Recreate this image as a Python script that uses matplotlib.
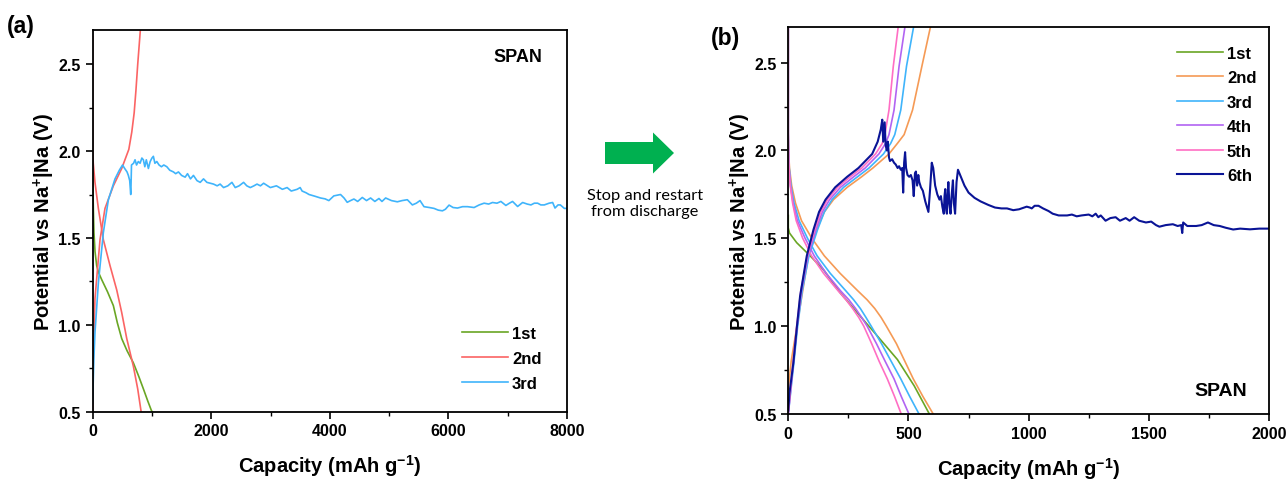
import matplotlib

matplotlib.use("Agg")
import matplotlib.pyplot as plt
from matplotlib.patches import FancyArrow
from matplotlib.ticker import MultipleLocator

plt.rcParams["font.family"] = ["Liberation Sans", "DejaVu Sans"]
plt.rcParams["font.weight"] = "bold"
plt.rcParams["mathtext.fontset"] = "custom"
plt.rcParams["mathtext.rm"] = "Liberation Sans:bold"
plt.rcParams["mathtext.default"] = "rm"

# ---- panel (a): SPAN, three cycles ----
a1_x = [0, 2, 6, 12, 22, 40, 68, 100, 152, 250, 349, 417, 490, 580, 687, 780, 856, 930, 986, 1000]
a1_y = [1.90, 1.84, 1.76, 1.66, 1.53, 1.42, 1.34, 1.30, 1.26, 1.19, 1.11, 1.01, 0.92, 0.85, 0.78, 0.70, 0.63, 0.56, 0.51, 0.50]

a2_dis_x = [0, 0, 2, 10, 39, 96, 180, 293, 406, 490, 575, 687, 760, 817]
a2_dis_y = [2.66, 2.20, 2.00, 1.93, 1.82, 1.67, 1.49, 1.34, 1.20, 1.07, 0.92, 0.76, 0.63, 0.50]
a2_chg_x = [0, 4, 10, 39, 124, 208, 349, 490, 610, 660, 700, 730, 760, 805]
a2_chg_y = [0.50, 0.65, 0.80, 1.15, 1.49, 1.67, 1.80, 1.90, 2.01, 2.11, 2.22, 2.35, 2.50, 2.70]

a3_x = [0, 5, 20, 39, 96, 180, 265, 377, 450, 504, 540, 580, 602, 625, 642, 647, 655, 690,
        715, 740, 770, 800, 830, 855, 880, 905, 940, 970, 1000, 1024, 1050, 1082, 1120, 1160,
        1200, 1251, 1300, 1363, 1400, 1447, 1500, 1560, 1600, 1650, 1700, 1760, 1814, 1870,
        1927, 2039, 2100, 2150, 2208, 2280, 2349, 2405, 2470, 2546, 2600, 2659, 2720, 2772,
        2830, 2884, 2997, 3100, 3200, 3280, 3350, 3449, 3500, 3533, 3600, 3650, 3750, 3843,
        3920, 3984, 4068, 4181, 4240, 4294, 4350, 4407, 4470, 4548, 4620, 4688, 4760, 4829,
        4880, 4942, 5040, 5139, 5220, 5308, 5393, 5460, 5522, 5589, 5680, 5758, 5830, 5900,
        5950, 6012, 6080, 6154, 6240, 6323, 6434, 6520, 6603, 6680, 6745, 6820, 6886, 6970,
        7030, 7083, 7168, 7253, 7330, 7393, 7450, 7506, 7560, 7618, 7700, 7759, 7799, 7850,
        7889, 7956, 8000]
a3_y = [0.55, 0.62, 0.80, 0.955, 1.24, 1.53, 1.72, 1.84, 1.89, 1.92, 1.90, 1.88, 1.86, 1.83,
        1.75, 1.80, 1.92, 1.93, 1.95, 1.92, 1.94, 1.93, 1.96, 1.95, 1.91, 1.95, 1.90, 1.94,
        1.96, 1.97, 1.93, 1.94, 1.92, 1.91, 1.92, 1.91, 1.89, 1.88, 1.87, 1.88, 1.86, 1.85,
        1.87, 1.84, 1.86, 1.83, 1.82, 1.84, 1.82, 1.81, 1.80, 1.81, 1.79, 1.80, 1.82, 1.79,
        1.80, 1.82, 1.80, 1.79, 1.80, 1.81, 1.80, 1.815, 1.79, 1.80, 1.78, 1.79, 1.77, 1.78,
        1.79, 1.77, 1.76, 1.75, 1.74, 1.73, 1.725, 1.715, 1.742, 1.75, 1.73, 1.705, 1.715,
        1.724, 1.71, 1.733, 1.715, 1.73, 1.71, 1.727, 1.71, 1.73, 1.715, 1.708, 1.715, 1.72,
        1.69, 1.70, 1.715, 1.68, 1.675, 1.67, 1.66, 1.656, 1.665, 1.689, 1.675, 1.672, 1.68,
        1.68, 1.675, 1.69, 1.70, 1.695, 1.704, 1.70, 1.71, 1.687, 1.70, 1.71, 1.681, 1.704,
        1.695, 1.69, 1.70, 1.70, 1.69, 1.69, 1.70, 1.704, 1.672, 1.69, 1.69, 1.67, 1.67]

# ---- panel (b): SPAN, six cycles ----
b1_x = [0, 0, 5, 35, 91, 147, 216, 286, 370, 454, 524, 587]
b1_y = [1.63, 1.56, 1.53, 1.475, 1.40, 1.32, 1.19, 1.078, 0.945, 0.81, 0.66, 0.50]

dis_y = [2.70, 2.10, 2.00, 1.90, 1.80, 1.70, 1.60, 1.50, 1.40, 1.30, 1.20, 1.15, 1.10, 1.05,
         1.00, 0.90, 0.80, 0.70, 0.60, 0.50]
b2_dis_x = [0, 0, 1, 5, 14, 30, 55, 98, 150, 216, 290, 328, 360, 386, 408, 450, 485, 520, 560, 603]
b3_dis_x = [0, 0, 1, 4, 11, 24, 45, 80, 120, 175, 240, 272, 300, 323, 345, 388, 428, 468, 505, 544]
b4_dis_x = [0, 0, 1, 3, 9, 20, 38, 70, 108, 158, 218, 252, 280, 305, 328, 367, 403, 440, 470, 502]
b5_dis_x = [0, 0, 1, 3, 8, 18, 33, 60, 97, 147, 208, 240, 268, 293, 314, 347, 378, 412, 442, 470]

chg_y = [0.50, 0.80, 1.00, 1.20, 1.40, 1.55, 1.65, 1.72, 1.79, 1.85, 1.90, 1.98, 2.04, 2.09, 2.23, 2.48, 2.70]
b2_chg_y = [0.64, 0.80, 1.00, 1.20, 1.40, 1.55, 1.65, 1.72, 1.79, 1.85, 1.90, 1.98, 2.04, 2.09, 2.23, 2.48, 2.70]
b2_chg_x = [0, 12, 36, 60, 84, 118, 150, 188, 245, 305, 352, 419, 454, 482, 517, 556, 591]
b3_chg_x = [0, 24, 39, 58, 86, 122, 150, 182, 230, 288, 336, 396, 426, 443, 468, 492, 521]
b4_chg_x = [0, 22, 37, 55, 82, 115, 142, 172, 217, 272, 320, 377, 405, 419, 440, 461, 485]
b5_chg_x = [0, 20, 35, 52, 79, 110, 135, 163, 205, 258, 306, 363, 391, 402, 419, 437, 457]

b6_x = [0, 5, 21, 36, 49, 77, 105, 128, 155, 195, 245, 292, 349, 372, 385, 391, 395, 401, 405,
        410, 414, 419, 423, 432, 440, 447, 455, 461, 468, 474, 478, 482, 486, 490, 496, 503,
        510, 517, 522, 527, 531, 536, 541, 545, 552, 560, 570, 583, 590, 597, 603, 611, 620,
        629, 635, 641, 647, 650, 653, 657, 660, 663, 666, 670, 675, 680, 685, 689, 694, 700,
        706, 715, 733, 750, 775, 800, 832, 860, 887, 910, 936, 960, 992, 1005, 1013, 1025,
        1041, 1060, 1083, 1100, 1125, 1139, 1160, 1180, 1200, 1220, 1250, 1265, 1279, 1290,
        1300, 1320, 1340, 1362, 1380, 1404, 1420, 1439, 1460, 1488, 1510, 1530, 1544, 1570,
        1600, 1620, 1635, 1639, 1643, 1660, 1697, 1720, 1746, 1770, 1795, 1820, 1851, 1880,
        1921, 1960, 2000]
b6_y = [0.52, 0.62, 0.79, 1.00, 1.17, 1.40, 1.55, 1.65, 1.72, 1.79, 1.85, 1.90, 1.98, 2.05,
        2.12, 2.175, 2.05, 2.16, 2.03, 2.00, 2.05, 1.96, 1.94, 1.95, 1.93, 1.92, 1.90, 1.91,
        1.89, 1.90, 1.76, 1.93, 1.99, 1.90, 1.86, 1.85, 1.86, 1.83, 1.74, 1.87, 1.88, 1.80,
        1.86, 1.82, 1.79, 1.77, 1.71, 1.65, 1.78, 1.93, 1.90, 1.80, 1.75, 1.72, 1.74, 1.68,
        1.64, 1.74, 1.78, 1.66, 1.64, 1.75, 1.82, 1.70, 1.64, 1.75, 1.83, 1.70, 1.64, 1.82,
        1.89, 1.86, 1.80, 1.76, 1.73, 1.71, 1.69, 1.675, 1.67, 1.67, 1.66, 1.665, 1.68,
        1.675, 1.67, 1.685, 1.685, 1.67, 1.655, 1.64, 1.63, 1.63, 1.63, 1.635, 1.625, 1.63,
        1.635, 1.625, 1.64, 1.62, 1.63, 1.60, 1.615, 1.62, 1.60, 1.615, 1.60, 1.62, 1.60,
        1.59, 1.595, 1.575, 1.566, 1.575, 1.58, 1.57, 1.575, 1.53, 1.59, 1.57, 1.57, 1.575,
        1.59, 1.575, 1.57, 1.56, 1.55, 1.555, 1.551, 1.555, 1.555]

GREEN = "#6aa624"
RED = "#fb6464"
LBLUE = "#3fb4fb"
ORANGE = "#f59a55"
PURPLE = "#b264f2"
PINK = "#ff6ec4"
NAVY = "#0a1496"

fig = plt.figure(figsize=(12.87, 4.81), dpi=100)
ax_a = fig.add_axes([0.072, 0.1424, 0.3685, 0.794])
ax_b = fig.add_axes([0.6125, 0.1372, 0.3735, 0.8037])

lw = 1.2
ax_a.plot(a1_x, a1_y, color=GREEN, lw=lw, label="1st")
ax_a.plot(a2_dis_x, a2_dis_y, color=RED, lw=lw, label="2nd")
ax_a.plot(a2_chg_x, a2_chg_y, color=RED, lw=lw)
ax_a.plot(a3_x, a3_y, color=LBLUE, lw=lw, label="3rd")

ax_b.plot(b1_x, b1_y, color=GREEN, lw=lw, label="1st")
ax_b.plot(b2_dis_x, dis_y, color=ORANGE, lw=lw, label="2nd")
ax_b.plot(b2_chg_x, b2_chg_y, color=ORANGE, lw=lw)
ax_b.plot(b3_dis_x, dis_y, color=LBLUE, lw=lw, label="3rd")
ax_b.plot(b3_chg_x, chg_y, color=LBLUE, lw=lw)
ax_b.plot(b4_dis_x, dis_y, color=PURPLE, lw=lw, label="4th")
ax_b.plot(b4_chg_x, chg_y, color=PURPLE, lw=lw)
ax_b.plot(b5_dis_x, dis_y, color=PINK, lw=lw, label="5th")
ax_b.plot(b5_chg_x, chg_y, color=PINK, lw=lw)
ax_b.plot(b6_x, b6_y, color=NAVY, lw=1.5, label="6th")

for ax, xmax, major, minor in ((ax_a, 8000, 2000, 1000), (ax_b, 2000, 500, 250)):
    ax.set_xlim(0, xmax)
    ax.set_ylim(0.5, 2.7)
    ax.xaxis.set_major_locator(MultipleLocator(major))
    ax.xaxis.set_minor_locator(MultipleLocator(minor))
    ax.yaxis.set_major_locator(MultipleLocator(0.5))
    ax.yaxis.set_minor_locator(MultipleLocator(0.25))
    ax.tick_params(which="major", length=5, width=1.2, labelsize=11.5, direction="out")
    ax.tick_params(which="minor", length=3, width=1.0, direction="out")
    for s in ax.spines.values():
        s.set_linewidth(1.3)
    ax.set_xlabel("Capacity (mAh g$^{-1}$)", fontsize=14.5, fontweight="bold", labelpad=10)
    ax.set_ylabel("Potential vs Na$^{+}$|Na (V)", fontsize=14.5, fontweight="bold", labelpad=1)

ax_a.text(0.897, 0.93, "SPAN", transform=ax_a.transAxes, ha="center", va="center",
          fontsize=13, fontweight="bold")
ax_b.text(0.90, 0.062, "SPAN", transform=ax_b.transAxes, ha="center", va="center",
          fontsize=14, fontweight="bold")

leg_kw = dict(frameon=False, fontsize=12, handlelength=2.75, handletextpad=0.25,
              borderpad=0, borderaxespad=0, loc="upper left")
ax_a.legend(bbox_to_anchor=(0.7786, 0.225), labelspacing=0.62, **leg_kw)
ax_b.legend(bbox_to_anchor=(0.8086, 0.953), labelspacing=0.57, **leg_kw)

fig.text(7 / 1287, 1 - 26 / 481, "(a)", fontsize=16.5, fontweight="bold", ha="left", va="center")
fig.text(711 / 1287, 1 - 39 / 481, "(b)", fontsize=16.5, fontweight="bold", ha="left", va="center")

arrow = FancyArrow(6.05, 3.27, 0.48, 0, width=0.22, head_width=0.41, head_length=0.21,
                   length_includes_head=False, color="#00b050", lw=0,
                   transform=fig.dpi_scale_trans)
fig.patches.append(arrow)
fig.text(645 / 1287, 1 - 204 / 481, "Stop and restart\nfrom discharge", family=["Lato", "DejaVu Sans"],
         fontsize=11.8, fontweight="normal", ha="center", va="center", linespacing=1.25)

fig.savefig("out.png", dpi=100)
